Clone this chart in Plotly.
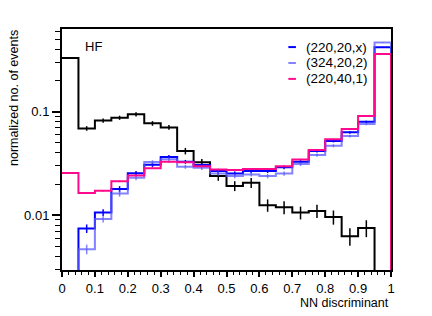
import plotly.graph_objects as go

# ---- data ----
bin_edges = [round(0.05 * i, 2) for i in range(21)]
bin_centers = [round(0.025 + 0.05 * i, 3) for i in range(20)]

hf_black = [0.33, 0.069, 0.0822, 0.0875, 0.0944, 0.0772, 0.0706, 0.0417, 0.0324, 0.0239,
            0.0192, 0.0206, 0.0125, 0.0119, 0.0106, 0.0110, 0.0096, 0.00627, 0.00753, 0.0]
hf_black_err = [0.006, 0.0035, 0.004, 0.004, 0.0045, 0.004, 0.0037, 0.003, 0.0026, 0.0024,
                0.0021, 0.0023, 0.0017, 0.0017, 0.0015, 0.0016, 0.0015, 0.0012, 0.0014, 0.0]

s220_20_x = [0.0, 0.00743, 0.0106, 0.0179, 0.0254, 0.0307, 0.0366, 0.0328, 0.0305, 0.0267,
             0.0253, 0.0267, 0.0268, 0.0290, 0.0328, 0.0417, 0.0521, 0.0632, 0.080, 0.420]
s220_20_x_err = [0.0, 0.0007, 0.0008, 0.0012, 0.0013, 0.0014, 0.0015, 0.0014, 0.0013, 0.0012,
                 0.0012, 0.0012, 0.0012, 0.0012, 0.0013, 0.0014, 0.0016, 0.0018, 0.002, 0.005]

s324_20_2 = [0.0, 0.00469, 0.0092, 0.0162, 0.0230, 0.0326, 0.0348, 0.0294, 0.0287, 0.0253,
             0.0239, 0.0248, 0.0239, 0.0253, 0.0312, 0.0381, 0.0469, 0.0582, 0.0760, 0.466]
s324_20_2_err = [0.0, 0.0005, 0.0007, 0.0011, 0.0012, 0.0014, 0.0014, 0.0013, 0.0013, 0.0012,
                 0.0012, 0.0012, 0.0012, 0.0012, 0.0013, 0.0014, 0.0016, 0.0018, 0.002, 0.005]

s220_40_1 = [0.0256, 0.0164, 0.0172, 0.0213, 0.0242, 0.0285, 0.0328, 0.0324, 0.0298, 0.0277,
             0.0273, 0.0279, 0.0279, 0.0298, 0.0346, 0.0426, 0.0541, 0.068, 0.0909, 0.362]
s220_40_1_err = [0.0004, 0.0003, 0.0003, 0.0004, 0.0004, 0.0004, 0.0005, 0.0005, 0.0004, 0.0004,
                 0.0004, 0.0004, 0.0004, 0.0004, 0.0005, 0.0005, 0.0006, 0.0007, 0.0008, 0.002]

series_names = ["(220,20,x)", "(324,20,2)", "(220,40,1)"]
y_tick_vals = [0.01, 0.1]
y_tick_text = ["0.01", "0.1"]
y_minor_vals = [0.003, 0.004, 0.005, 0.006, 0.007, 0.008, 0.009,
                0.02, 0.03, 0.04, 0.05, 0.06, 0.07, 0.08, 0.09,
                0.2, 0.3, 0.4, 0.5, 0.6]

FLOOR = 1e-6
FONT = "Liberation Sans, Arial, Helvetica, sans-serif"

BLACK = "#000000"
BLUE = "#0000ff"
LIGHTBLUE = "rgba(90,90,255,0.75)"
PINK = "#ff0a8c"


def step_xy(vals, close_right):
    ys = [v if v > 0 else FLOOR for v in vals]
    xs = list(bin_edges[:-1]) + [bin_edges[-1]]
    ys = ys + [ys[-1]]
    if close_right:
        xs = xs + [bin_edges[-1]]
        ys = ys + [FLOOR]
    return xs, ys


fig = go.Figure()


def add_hist(vals, errs, color, width, close_right):
    xs, ys = step_xy(vals, close_right)
    fig.add_trace(go.Scatter(x=xs, y=ys, mode="lines", line=dict(color=color, width=width, shape="hv"),
                             showlegend=False, hoverinfo="skip"))
    cx = [c for c, v in zip(bin_centers, vals) if v > 0]
    cy = [v for v in vals if v > 0]
    ce = [e for e, v in zip(errs, vals) if v > 0]
    fig.add_trace(go.Scatter(x=cx, y=cy, mode="markers", marker=dict(size=1, color=color, opacity=0),
                             error_y=dict(type="data", array=ce, visible=True, color=color,
                                          thickness=1.5, width=0),
                             showlegend=False, hoverinfo="skip"))


add_hist(hf_black, hf_black_err, BLACK, 2, False)
add_hist(s220_20_x, s220_20_x_err, BLUE, 2, True)
add_hist(s324_20_2, s324_20_2_err, LIGHTBLUE, 2, True)
add_hist(s220_40_1, s220_40_1_err, PINK, 2, True)

fig.update_xaxes(range=[0, 1], showline=True, linecolor="black", linewidth=2, mirror=True,
                 ticks="outside", ticklen=5, tickwidth=1.5, tickcolor="black",
                 dtick=0.1, tick0=0, showgrid=False, zeroline=False,
                 tickfont=dict(family=FONT, size=13, color="black"),
                 minor=dict(dtick=0.02, tick0=0, ticks="outside", ticklen=3, tickwidth=1.2,
                            tickcolor="black", showgrid=False))
fig.update_yaxes(type="log", range=[-2.53, -0.2], showline=True, linecolor="black", linewidth=2,
                 mirror=True, ticks="outside", ticklen=8, tickwidth=1.5, tickcolor="black",
                 tickmode="array", tickvals=y_tick_vals, ticktext=y_tick_text,
                 showgrid=False, zeroline=False,
                 tickfont=dict(family=FONT, size=13, color="black"),
                 minor=dict(tickmode="array", tickvals=y_minor_vals, ticks="outside", ticklen=5,
                            tickwidth=1.2, tickcolor="black", showgrid=False))

annotations = [
    dict(text="HF", x=0.064, y=0.929, xref="paper", yref="paper", xanchor="left", yanchor="middle",
         showarrow=False, font=dict(family=FONT, size=13, color="black")),
    dict(text="NN discriminant", x=1.0, y=-0.138, xref="paper", yref="paper", xanchor="right",
         yanchor="middle", showarrow=False, font=dict(family=FONT, size=12.5, color="black")),
    dict(text="normalized no. of events", x=-0.146, y=1.004, xref="paper", yref="paper",
         xanchor="center", yanchor="top", textangle=-90, showarrow=False,
         font=dict(family=FONT, size=12.5, color="black")),
]
shapes = []
legend_colors = [BLUE, LIGHTBLUE, PINK]
legend_y = [0.925, 0.859, 0.793]
for name, col, ly in zip(series_names, legend_colors, legend_y):
    shapes.append(dict(type="line", xref="paper", yref="paper", x0=0.688, x1=0.711, y0=ly, y1=ly,
                       line=dict(color=col, width=2)))
    annotations.append(dict(text=name, x=0.737, y=ly, xref="paper", yref="paper", xanchor="left",
                            yanchor="middle", showarrow=False,
                            font=dict(family=FONT, size=13.5, color="black")))

# page body has an 8px margin; figure sized/margined so the plot lands where the reference has it
fig.update_layout(width=424, height=308, margin=dict(l=54, r=41, t=21, b=46),
                  paper_bgcolor="white", plot_bgcolor="white", showlegend=False,
                  annotations=annotations, shapes=shapes)

fig.write_html("out.html")
